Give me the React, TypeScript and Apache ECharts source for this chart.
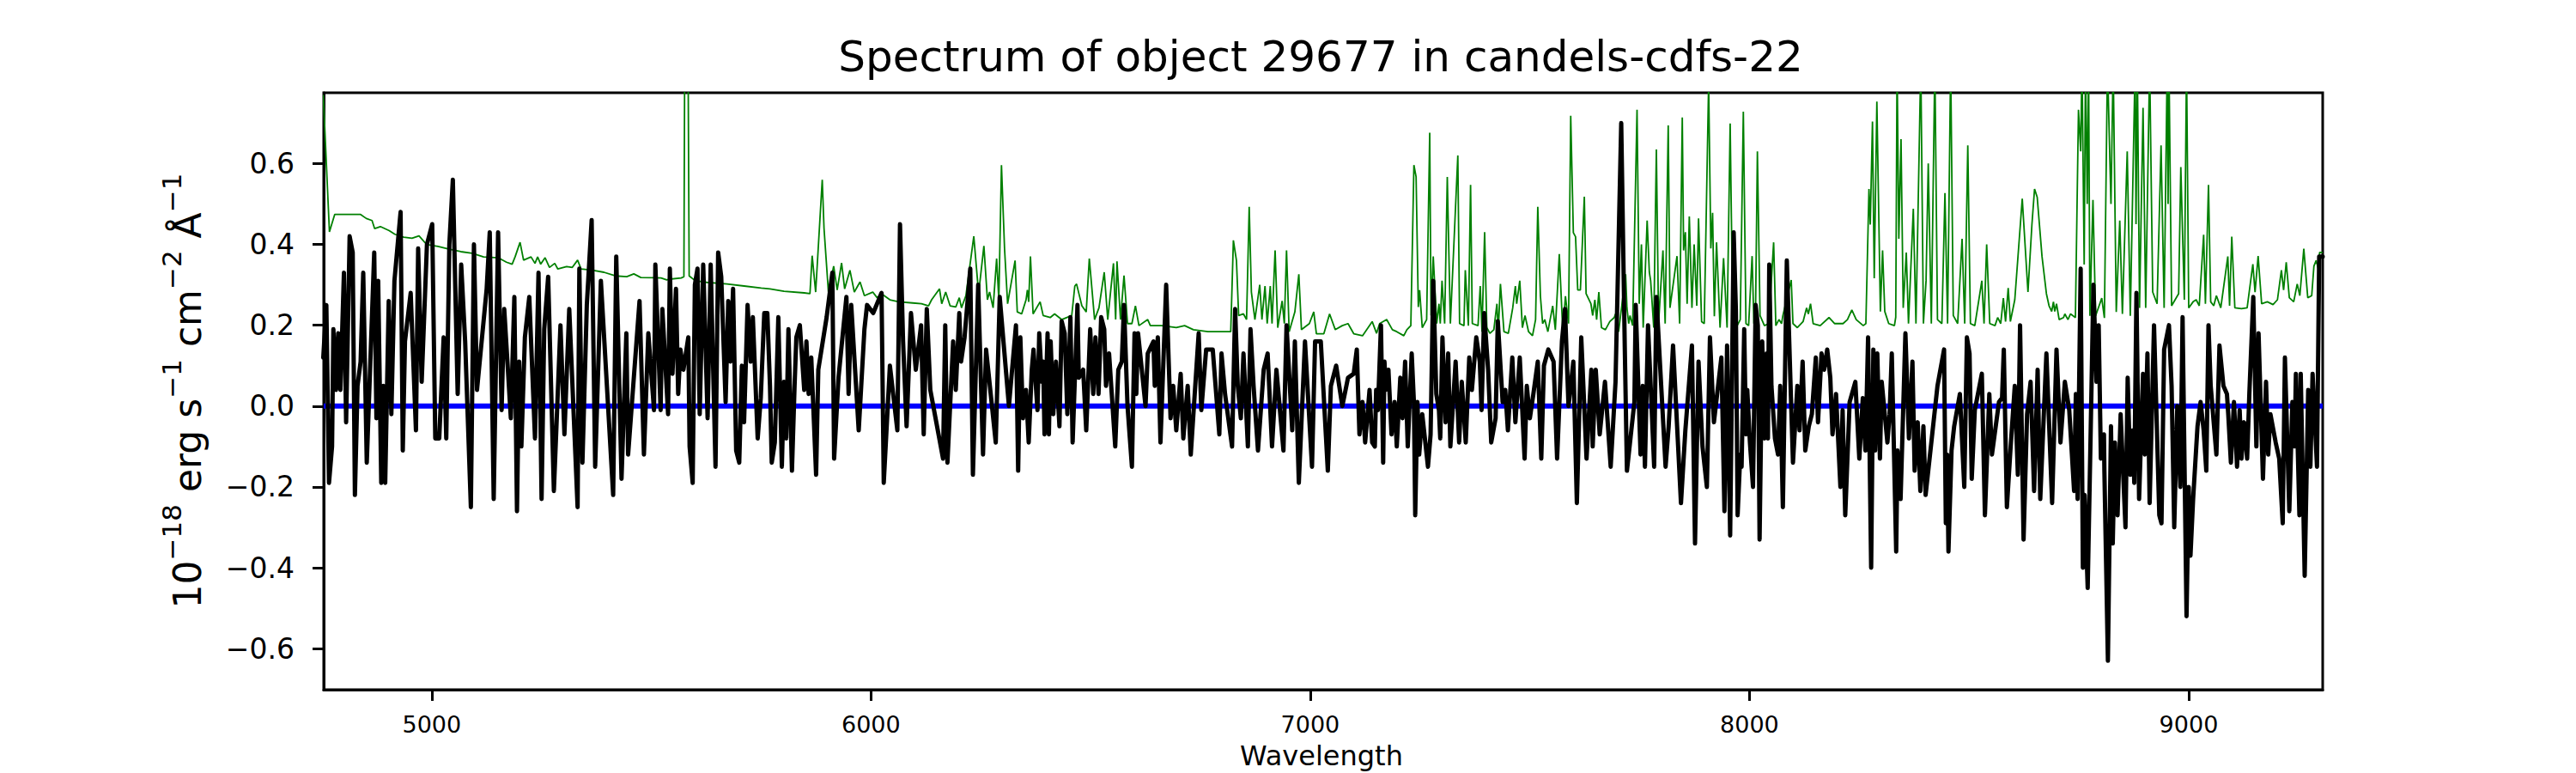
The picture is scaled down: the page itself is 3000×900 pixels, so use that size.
import React, { useEffect, useRef } from 'react';
import * as echarts from 'echarts';

const TITLE = 'Spectrum of object 29677 in candels-cdfs-22';
const X_NAME = 'Wavelength';
const Y_NAME = '{m|10}{s|\u221218}{m| erg s}{s|\u22121}{m| cm}{s|\u22122}{m| \u00c5}{s|\u22121}';
const X_TICKS = [5000, 6000, 7000, 8000, 9000];
const Y_TICKS = [-0.6, -0.4, -0.2, 0, 0.2, 0.4, 0.6];
const X_MIN = 4754;
const X_MAX = 9305;
const Y_MIN = -0.7015;
const Y_MAX = 0.775;

// observed flux (black)
const fluxWave = [
  4753, 4760, 4766, 4773, 4776, 4782, 4787, 4792, 4800, 4805, 4813, 4820, 4825, 4831, 4838, 4844, 4852, 4869, 4874, 4878,
  4885, 4890, 4894, 4902, 4908, 4915, 4929, 4934, 4939, 4952, 4964, 4969, 4977, 4989, 5001, 5008, 5017, 5027, 5033, 5040,
  5048, 5059, 5067, 5076, 5089, 5096, 5103, 5125, 5132, 5141, 5151, 5159, 5165, 5180, 5188, 5194, 5199, 5204, 5212, 5222,
  5235, 5243, 5250, 5256, 5265, 5278, 5293, 5302, 5313, 5332, 5336, 5343, 5353, 5364, 5372, 5385, 5413, 5420, 5432, 5443,
  5447, 5473, 5483, 5493, 5506, 5509, 5521, 5525, 5538,
  5542, 5548, 5556, 5561, 5566, 5573, 5584, 5587, 5594, 5599, 5605, 5610, 5618, 5628, 5635, 5646, 5652, 5659, 5669, 5675,
  5680, 5686, 5693, 5700, 5706, 5711, 5719, 5726, 5731, 5742, 5749, 5757, 5764, 5770, 5774, 5781, 5789, 5797, 5802, 5807,
  5812, 5820, 5826, 5830, 5838, 5848, 5853, 5858, 5864, 5875, 5880, 5899, 5912, 5916, 5926, 5944, 5949, 5955, 5972, 5985,
  5991, 6005, 6024, 6029, 6043, 6060, 6066, 6073, 6081, 6091, 6102, 6114, 6120, 6127, 6135, 6164, 6169, 6174, 6187, 6193,
  6201, 6205, 6213, 6226, 6232, 6244, 6255, 6262, 6284, 6293, 6314, 6330, 6335, 6340,
  6346, 6353, 6359, 6366, 6370, 6379, 6383, 6389, 6392, 6395, 6402, 6405, 6409, 6415, 6421, 6429, 6434, 6441, 6447, 6454,
  6459, 6470, 6473, 6483, 6490, 6499, 6506, 6511, 6518, 6524, 6531, 6535, 6542, 6556, 6563, 6571, 6576, 6584, 6594, 6600,
  6604, 6608, 6625, 6630, 6643, 6646, 6653, 6659, 6672, 6682, 6688, 6695, 6705, 6711, 6721, 6728, 6746, 6752, 6763, 6778,
  6793, 6798, 6806, 6822, 6829, 6835, 6842, 6848, 6858, 6864, 6871, 6881, 6894, 6903, 6913, 6923, 6939, 6946, 6959, 6965,
  6974, 6988, 7004, 7011, 7024, 7040, 7047, 7059, 7073, 7086, 7099, 7106, 7112, 7119, 7125, 7135, 7141,
  7147, 7150, 7154, 7161, 7166, 7169, 7172, 7178, 7185, 7192, 7197, 7205, 7210, 7216, 7222, 7231, 7236, 7239, 7244, 7248,
  7255, 7268, 7274, 7280, 7287, 7293, 7296, 7301, 7308, 7314, 7319, 7331, 7339, 7345, 7354, 7362, 7368, 7378, 7386, 7390,
  7396, 7405, 7412, 7422, 7427, 7438, 7444, 7450, 7460, 7467, 7477, 7488, 7493, 7500, 7508, 7518, 7526, 7532, 7542, 7554,
  7562, 7573, 7580, 7588, 7599, 7607, 7617, 7629, 7640, 7643, 7650, 7659, 7671, 7684, 7695, 7708, 7716, 7721, 7731, 7738,
  7741, 7752, 7757, 7762, 7769, 7783, 7788, 7809, 7816, 7826, 7844, 7854, 7869, 7876, 7884, 7893, 7903, 7910, 7919, 7936,
  7943, 7949, 7956, 7964,
  7969, 7973, 7979, 7982, 7988, 7992, 7995, 8001, 8008, 8014, 8019, 8023, 8029, 8034, 8039, 8042, 8045, 8050, 8058, 8065,
  8070, 8076, 8085, 8093, 8099, 8109, 8114, 8121, 8127, 8135, 8142, 8151, 8156, 8164, 8170, 8177, 8184, 8189, 8197, 8207,
  8212, 8218, 8228, 8241, 8250, 8258, 8264, 8270, 8277, 8282, 8286, 8291, 8297, 8301, 8314, 8319, 8324, 8334, 8337, 8344,
  8355, 8363, 8371, 8376, 8383, 8389, 8396, 8401, 8428, 8443, 8447, 8450, 8453, 8460, 8466, 8479, 8489, 8495, 8501, 8506,
  8513, 8529, 8536, 8546, 8552, 8568, 8575, 8579, 8586, 8594, 8604, 8611, 8616, 8624, 8632, 8640, 8648, 8656, 8662, 8676,
  8689, 8699, 8708, 8718, 8728,
  8739, 8743, 8747, 8754, 8759, 8763, 8770, 8777, 8783, 8790, 8795, 8800, 8807, 8808, 8816, 8823, 8827, 8832, 8838, 8845,
  8856, 8861, 8867, 8873, 8876, 8881, 8887, 8896, 8900, 8906, 8911, 8921, 8933, 8938, 8944, 8955, 8961, 8967, 8974, 8981,
  8986, 8995, 9000, 9004, 9010, 9020, 9027, 9034, 9040, 9045, 9050, 9063, 9070, 9079, 9087, 9090, 9096, 9103, 9110, 9116,
  9120, 9126, 9133, 9138, 9147, 9154, 9159, 9169, 9176, 9181, 9186, 9198, 9206, 9214, 9219, 9229, 9236, 9241, 9244, 9252,
  9255, 9264, 9272, 9277, 9282, 9292, 9297, 9305,
];
const fluxValue = [
  0.12, 0.25, -0.19, -0.10, 0.19, 0.04, 0.18, 0.04, 0.33, -0.04, 0.42, 0.38, -0.22, 0.05, 0.11, 0.33, -0.14, 0.38, -0.03, 0.31,
  -0.19, 0.05, -0.19, 0.26, -0.02, 0.31, 0.48, -0.11, 0.16, 0.28, -0.06, 0.39, 0.06, 0.40, 0.45, -0.08, -0.08, 0.17, -0.08, 0.40,
  0.56, 0.03, 0.35, 0.16, -0.25, 0.40, 0.04, 0.29, 0.43, -0.23, 0.43, -0.01, 0.24, -0.03, 0.27, -0.26, 0.11, -0.10, 0.17, 0.27,
  -0.08, 0.33, -0.23, 0.19, 0.32, -0.21, 0.20, -0.07, 0.24, -0.25, 0.34, -0.14, 0.25, 0.46, -0.15, 0.31, -0.22, 0.37, -0.18, 0.18,
  -0.12, 0.26, -0.12, 0.18, -0.01, 0.35, -0.01, 0.24, -0.02,
  0.34, 0.08, 0.29, 0.03, 0.14, 0.09, 0.17, -0.10, -0.19, 0.30, 0.34, -0.02, 0.35, -0.03, 0.35, -0.15, 0.38, 0.32, 0.01, 0.26,
  0.11, 0.29, -0.11, -0.14, 0.10, -0.04, 0.25, 0.11, 0.22, -0.08, 0.02, 0.23, 0.23, 0.05, -0.14, -0.09, 0.22, -0.15, 0.06, -0.08,
  0.19, -0.16, 0.05, 0.17, 0.20, 0.04, 0.16, 0.03, 0.12, -0.17, 0.09, 0.22, 0.33, -0.13, 0.07, 0.27, 0.03, 0.25, -0.06, 0.19,
  0.25, 0.23, 0.28, -0.19, 0.10, -0.06, 0.45, 0.16, -0.05, 0.23, 0.09, 0.20, -0.07, 0.24, 0.04, -0.13, 0.20, -0.14, 0.16, 0.04,
  0.23, 0.11, 0.17, 0.34, -0.17, 0.30, -0.12, 0.14, -0.09, 0.27, 0.00, 0.20, -0.16, 0.17,
  -0.03, 0.04, -0.09, 0.09, 0.14, -0.01, 0.18, 0.06, 0.11, -0.07, 0.18, -0.07, 0.16, -0.02, 0.11, -0.05, 0.21, 0.18, -0.02, 0.22,
  -0.09, 0.25, 0.07, 0.09, -0.06, 0.19, 0.03, 0.17, 0.03, 0.22, 0.19, 0.05, 0.13, -0.10, 0.09, 0.11, 0.25, 0.00, -0.15, 0.18,
  0.03, 0.18, 0.00, 0.13, 0.16, 0.05, 0.17, -0.09, 0.30, -0.03, 0.05, -0.06, 0.08, -0.08, 0.05, -0.12, 0.18, -0.01, 0.14, 0.14,
  -0.07, 0.13, 0.03, -0.10, 0.24, 0.05, -0.03, 0.13, -0.10, 0.19, 0.05, -0.11, 0.09, 0.13, -0.10, 0.09, -0.11, 0.20, -0.06, 0.16,
  -0.19, 0.16, -0.15, 0.16, 0.16, -0.16, 0.05, 0.10, 0.00, 0.07, 0.08, 0.14, -0.07, 0.01, -0.09, 0.04, -0.09,
  -0.10, 0.04, -0.01, 0.20, -0.14, 0.11, 0.04, 0.09, -0.07, 0.01, -0.10, 0.07, -0.03, 0.11, -0.10, 0.13, 0.01, -0.27, 0.01, -0.12,
  -0.02, -0.15, -0.07, 0.31, 0.03, -0.01, -0.08, 0.17, -0.04, 0.13, -0.10, 0.11, -0.09, 0.06, -0.09, 0.12, 0.04, 0.17, 0.11, -0.01,
  0.23, 0.09, -0.09, -0.03, 0.21, 0.01, 0.04, -0.06, 0.12, -0.04, 0.12, -0.13, 0.05, -0.03, 0.03, 0.11, -0.13, 0.10, 0.14, 0.11,
  -0.13, 0.16, 0.24, 0.00, 0.11, -0.24, 0.17, -0.13, 0.09, -0.10, 0.09, -0.07, 0.06, -0.15, 0.06, 0.70, 0.15, -0.16, -0.06, 0.01,
  0.25, -0.12, 0.05, -0.15, 0.20, -0.15, 0.27, -0.15, -0.05, 0.15, -0.24, -0.06, 0.15, -0.34, 0.11, -0.10, -0.20, 0.17, -0.04, 0.12,
  -0.26, 0.15, -0.32, 0.43,
  0.24, -0.27, -0.12, -0.15, 0.19, -0.07, 0.04, -0.09, -0.20, 0.25, 0.20, -0.33, 0.16, -0.08, 0.13, -0.08, 0.35, 0.05, -0.08, -0.12,
  0.05, -0.25, 0.36, 0.07, -0.14, 0.05, -0.06, 0.11, -0.11, -0.05, -0.02, 0.12, -0.04, 0.13, 0.09, 0.14, 0.07, -0.07, 0.03, -0.20,
  -0.01, -0.27, 0.01, 0.06, -0.13, 0.02, -0.11, 0.17, -0.40, 0.14, -0.11, 0.13, -0.13, 0.06, -0.09, -0.02, 0.13, -0.36, -0.11, -0.23,
  0.18, -0.08, 0.11, -0.16, -0.04, -0.21, -0.05, -0.22, 0.05, 0.14, -0.29, -0.12, -0.36, -0.11, -0.05, 0.03, -0.20, 0.17, 0.13, -0.18,
  -0.01, 0.08, -0.27, 0.03, -0.12, 0.01, 0.02, 0.14, -0.25, -0.11, 0.05, -0.17, 0.20, -0.33, -0.02, 0.06, -0.21, 0.09, -0.23, 0.13,
  -0.24, 0.14, -0.09, 0.06, -0.01,
  -0.21, 0.03, -0.23, 0.34, -0.40, -0.22, -0.45, -0.05, 0.30, 0.06, 0.20, -0.13, -0.07, -0.16, -0.63, -0.05, -0.34, -0.09, -0.27, -0.02,
  -0.30, 0.07, -0.17, -0.06, -0.19, 0.28, -0.23, 0.08, -0.12, 0.13, -0.24, 0.20, -0.27, -0.29, 0.14, 0.20, 0.05, -0.30, 0.00, -0.20,
  0.22, -0.52, -0.20, -0.37, -0.23, -0.05, 0.01, -0.06, -0.16, 0.20, 0.05, -0.12, 0.15, 0.05, 0.03, -0.02, -0.14, 0.01, -0.15, -0.01,
  -0.13, -0.04, -0.13, 0.03, 0.27, -0.10, 0.18, -0.18, 0.06, -0.12, -0.02, -0.09, -0.13, -0.29, 0.12, -0.26, 0.01, -0.10, 0.08, -0.27,
  0.08, -0.42, 0.04, -0.15, 0.08, -0.15, 0.37, 0.37,
];

// noise / error spectrum (green)
const errWave = [
  4753, 4767, 4779, 4838, 4851, 4864, 4870, 4883, 4903, 4916, 4936, 4955, 4971, 4988, 5014, 5040, 5066, 5092, 5118, 5151,
  5170, 5183, 5190, 5201, 5209, 5226, 5235, 5241, 5248, 5258, 5268, 5280, 5287, 5307, 5320, 5332, 5340, 5366, 5392, 5418,
  5444, 5460, 5476, 5522, 5535,
  5542, 5568, 5574, 5577, 5582, 5586, 5600, 5626, 5672, 5711, 5750, 5770, 5802, 5848, 5861, 5866, 5874, 5889, 5893, 5903,
  5915, 5923, 5933, 5940, 5952, 5962, 5975, 5985, 6004, 6014, 6024, 6043, 6063, 6095, 6115, 6131, 6138, 6156, 6161, 6170,
  6180, 6193, 6201, 6206, 6216, 6234, 6245, 6257, 6265, 6270, 6278, 6286, 6291, 6297, 6304, 6311, 6328, 6333, 6343,
  6353, 6356, 6359, 6363, 6369, 6385, 6392, 6408, 6418, 6434, 6457, 6464, 6468, 6480, 6490, 6497, 6509, 6519, 6531, 6539,
  6552, 6557, 6560, 6568, 6576, 6584, 6594, 6602, 6610, 6630, 6636, 6662, 6695, 6714, 6734, 6767, 6809, 6819, 6825, 6832,
  6837, 6848, 6855, 6861, 6866, 6874, 6885, 6890, 6897, 6902, 6909, 6913, 6920, 6926, 6936, 6941, 6946, 6952, 6965, 6974,
  6980, 6998, 7008, 7014, 7031, 7044, 7057, 7073, 7086, 7099, 7119, 7141,
  7151, 7158, 7174, 7187, 7197, 7213, 7220, 7229, 7236, 7241, 7246, 7249, 7255, 7265, 7272, 7275, 7280, 7288, 7293, 7296,
  7300, 7306, 7312, 7319, 7336, 7340, 7350, 7353, 7360, 7365, 7369, 7382, 7387, 7391, 7397, 7402, 7409, 7418, 7425, 7428,
  7433, 7441, 7451, 7461, 7467, 7470, 7477, 7483, 7489, 7497, 7506, 7513, 7518, 7524, 7529, 7534, 7541, 7552, 7558, 7567,
  7575, 7581, 7588, 7593, 7599, 7604, 7609, 7615, 7624, 7628, 7639, 7643, 7648, 7652, 7657, 7663, 7672, 7682, 7692, 7695,
  7702, 7718, 7721, 7725, 7728, 7734, 7744, 7749, 7754, 7758, 7767, 7772, 7775, 7782, 7788, 7793, 7803, 7808, 7815, 7819,
  7835, 7841, 7847, 7850, 7854, 7858, 7863, 7869, 7874, 7880, 7884, 7891, 7897, 7907, 7912, 7916, 7920, 7925, 7933, 7941,
  7949,
  7956, 7962, 7972, 7979, 7986, 7992, 7998, 8006, 8010, 8014, 8018, 8024, 8034, 8044, 8055, 8060, 8067, 8073, 8076, 8095,
  8099, 8109, 8122, 8130, 8134, 8139, 8145, 8161, 8181, 8194, 8213, 8223, 8233, 8243, 8259, 8265, 8272, 8275, 8280, 8284,
  8290, 8298, 8303, 8308, 8317, 8330, 8333, 8336, 8340, 8345, 8350, 8357, 8362, 8373, 8379, 8390, 8396, 8402, 8407, 8414,
  8422, 8428, 8438, 8445, 8451, 8458, 8464, 8474, 8484, 8490, 8497, 8503, 8513, 8529, 8534, 8540, 8547, 8559, 8565, 8572,
  8578, 8583, 8589, 8594, 8604, 8621, 8634, 8643, 8649, 8655, 8666, 8676, 8682, 8688, 8692, 8695, 8699, 8705, 8715, 8718,
  8725, 8731, 8742,
  8749, 8754, 8757, 8762, 8765, 8769, 8772, 8775, 8782, 8788, 8802, 8808, 8815, 8823, 8828, 8835, 8843, 8849, 8860, 8867,
  8878, 8880, 8883, 8888, 8896, 8902, 8911, 8918, 8928, 8937, 8944, 8951, 8953, 8955, 8961, 8969, 8977, 8982, 8990, 8995,
  9000, 9010, 9017, 9024, 9034, 9038, 9045, 9050, 9057, 9063, 9073, 9089, 9093, 9098, 9105, 9120, 9133, 9146, 9151, 9158,
  9166, 9179, 9192, 9202, 9211, 9216, 9222, 9229, 9239, 9247, 9253, 9262, 9271, 9280, 9285, 9290, 9295, 9298, 9305,
];
const errValue = [
  0.770, 0.431, 0.474, 0.474, 0.464, 0.459, 0.439, 0.444, 0.434, 0.425, 0.418, 0.415, 0.421, 0.400, 0.395, 0.388, 0.382, 0.378, 0.369, 0.367,
  0.356, 0.351, 0.370, 0.405, 0.361, 0.369, 0.353, 0.369, 0.351, 0.367, 0.343, 0.353, 0.339, 0.345, 0.343, 0.361, 0.339, 0.336, 0.331, 0.322,
  0.320, 0.327, 0.318, 0.317, 0.312,
  0.314, 0.317, 0.320, 1.2, 1.2, 0.322, 0.310, 0.306, 0.302, 0.297, 0.292, 0.290, 0.284, 0.280, 0.278, 0.372, 0.282, 0.560, 0.440, 0.282,
  0.346, 0.287, 0.354, 0.290, 0.336, 0.282, 0.307, 0.273, 0.282, 0.268, 0.278, 0.263, 0.258, 0.255, 0.253, 0.248, 0.263, 0.290, 0.253, 0.282,
  0.248, 0.245, 0.268, 0.243, 0.273, 0.420, 0.278, 0.396, 0.263, 0.282, 0.243, 0.365, 0.263, 0.596, 0.390, 0.253, 0.360, 0.233, 0.228,
  0.263, 0.287, 0.258, 0.370, 0.228, 0.258, 0.224, 0.219, 0.228, 0.214, 0.224, 0.297, 0.302, 0.248, 0.233, 0.365, 0.214, 0.243, 0.331, 0.214,
  0.353, 0.214, 0.358, 0.214, 0.323, 0.204, 0.204, 0.248, 0.199, 0.214, 0.199, 0.199, 0.194, 0.199, 0.189, 0.184, 0.184, 0.184, 0.410, 0.360,
  0.224, 0.228, 0.214, 0.493, 0.282, 0.214, 0.300, 0.214, 0.297, 0.204, 0.297, 0.204, 0.385, 0.194, 0.260, 0.204, 0.385, 0.184, 0.233, 0.326,
  0.189, 0.204, 0.233, 0.179, 0.179, 0.228, 0.189, 0.199, 0.204, 0.179, 0.174, 0.209,
  0.180, 0.204, 0.214, 0.189, 0.184, 0.174, 0.189, 0.199, 0.596, 0.567, 0.245, 0.287, 0.194, 0.214, 0.676, 0.224, 0.370, 0.204, 0.253, 0.204,
  0.310, 0.204, 0.567, 0.204, 0.620, 0.204, 0.199, 0.336, 0.199, 0.547, 0.204, 0.199, 0.297, 0.184, 0.430, 0.194, 0.180, 0.189, 0.253, 0.184,
  0.302, 0.184, 0.180, 0.243, 0.297, 0.253, 0.310, 0.194, 0.224, 0.184, 0.174, 0.214, 0.493, 0.272, 0.204, 0.214, 0.184, 0.248, 0.189, 0.376,
  0.184, 0.272, 0.204, 0.718, 0.429, 0.419, 0.287, 0.287, 0.518, 0.278, 0.253, 0.224, 0.263, 0.214, 0.282, 0.194, 0.189, 0.209, 0.219, 0.228,
  0.184, 0.326, 0.243, 0.204, 0.224, 0.199, 0.733, 0.253, 0.400, 0.194, 0.459, 0.331, 0.310, 0.194, 0.635, 0.204, 0.385, 0.204, 0.694, 0.243,
  0.371, 0.204, 0.714, 0.385, 0.430, 0.253, 0.469, 0.243, 0.400, 0.248, 0.464, 0.209, 0.204, 0.800, 0.390, 0.478, 0.222, 0.405, 0.194, 0.366,
  0.194,
  0.699, 0.204, 0.199, 0.214, 0.728, 0.204, 0.199, 0.371, 0.204, 0.253, 0.630, 0.224, 0.199, 0.204, 0.405, 0.199, 0.214, 0.204, 0.224, 0.312,
  0.204, 0.194, 0.209, 0.243, 0.228, 0.253, 0.204, 0.199, 0.219, 0.204, 0.204, 0.214, 0.238, 0.214, 0.199, 0.204, 0.537, 0.449, 0.704, 0.316,
  0.753, 0.234, 0.385, 0.234, 0.204, 0.199, 0.220, 0.850, 0.414, 0.660, 0.243, 0.380, 0.204, 0.488, 0.204, 0.850, 0.204, 0.310, 0.600, 0.204,
  0.850, 0.214, 0.204, 0.527, 0.204, 0.850, 0.224, 0.204, 0.414, 0.204, 0.645, 0.204, 0.199, 0.310, 0.204, 0.400, 0.204, 0.199, 0.219, 0.204,
  0.267, 0.209, 0.292, 0.209, 0.263, 0.513, 0.282, 0.449, 0.537, 0.517, 0.370, 0.278, 0.248, 0.234, 0.258, 0.234, 0.253, 0.214, 0.219, 0.228,
  0.214, 0.228, 0.219,
  0.733, 0.630, 0.850, 0.350, 0.850, 0.500, 0.850, 0.223, 0.510, 0.223, 0.267, 0.218, 0.850, 0.500, 0.850, 0.233, 0.459, 0.228, 0.630, 0.223,
  0.850, 0.450, 0.850, 0.243, 0.738, 0.243, 0.850, 0.282, 0.253, 0.645, 0.243, 0.850, 0.500, 0.850, 0.248, 0.263, 0.278, 0.591, 0.263, 0.850,
  0.243, 0.258, 0.263, 0.248, 0.424, 0.253, 0.547, 0.258, 0.248, 0.273, 0.243, 0.370, 0.248, 0.419, 0.243, 0.241, 0.243, 0.351, 0.282, 0.371,
  0.253, 0.258, 0.251, 0.263, 0.336, 0.287, 0.356, 0.268, 0.258, 0.302, 0.273, 0.389, 0.268, 0.273, 0.346, 0.360, 0.340, 0.380, 0.380,
];

// zero level (blue)
const zeroWave = [X_MIN, X_MAX];
const zeroValue = [0, 0];

const FONT = 'DejaVu Sans';

const zip = (xs: number[], ys: number[]) => xs.map((x, i) => [x, ys[i]]);
const fmtY = (v: number) => {
  const s = Math.abs(v).toFixed(1);
  return v < -1e-9 ? '\u2212' + s : s;
};

export default function App() {
  const ref = useRef<HTMLDivElement>(null);
  useEffect(() => {
    document.body.style.margin = '0';
    const chart = echarts.init(ref.current as HTMLDivElement, undefined, { renderer: 'svg' });
    chart.setOption({
      animation: false,
      backgroundColor: '#ffffff',
      grid: {
        left: 377,
        right: 295,
        top: 108,
        bottom: 97,
        show: true,
        borderColor: '#000',
        borderWidth: 3,
        backgroundColor: 'transparent',
      },
      xAxis: {
        type: 'value',
        min: X_MIN,
        max: X_MAX,
        axisLine: { show: true, onZero: false, lineStyle: { color: '#000', width: 3 } },
        axisTick: { show: true, length: 13, lineStyle: { color: '#000', width: 3 }, customValues: X_TICKS },
        axisLabel: {
          customValues: X_TICKS,
          margin: 27,
          fontSize: 27,
          fontFamily: FONT,
          color: '#000',
          formatter: (v: number) => String(Math.round(v)),
        },
        splitLine: { show: false },
      },
      yAxis: {
        type: 'value',
        min: Y_MIN,
        max: Y_MAX,
        axisLine: { show: true, onZero: false, lineStyle: { color: '#000', width: 3 } },
        axisTick: { show: true, length: 13, lineStyle: { color: '#000', width: 3 }, customValues: Y_TICKS },
        axisLabel: {
          customValues: Y_TICKS,
          margin: 34,
          fontSize: 33,
          fontFamily: FONT,
          color: '#000',
          formatter: fmtY,
        },
        splitLine: { show: false },
      },
      graphic: [
        {
          type: 'text',
          x: 1538,
          y: 66,
          style: { text: TITLE, fontSize: 50, fontFamily: FONT, fill: '#000', align: 'center', verticalAlign: 'middle' },
        },
        {
          type: 'text',
          x: 1539,
          y: 880,
          style: { text: X_NAME, fontSize: 32, fontFamily: FONT, fill: '#000', align: 'center', verticalAlign: 'middle' },
        },
        {
          type: 'text',
          x: 212,
          y: 455,
          rotation: Math.PI / 2,
          style: {
            text: Y_NAME,
            fill: '#000',
            align: 'center',
            verticalAlign: 'middle',
            rich: {
              m: { fontSize: 44, fontFamily: FONT, fill: '#000', lineHeight: 56, verticalAlign: 'bottom' },
              s: { fontSize: 31, fontFamily: FONT, fill: '#000', lineHeight: 28, verticalAlign: 'top' },
            },
          },
        },
      ],
      series: [
        {
          type: 'line',
          data: zip(errWave, errValue),
          showSymbol: false,
          symbol: 'none',
          lineStyle: { color: '#008000', width: 1.8 },
          clip: true,
        },
        {
          type: 'line',
          data: zip(zeroWave, zeroValue),
          showSymbol: false,
          symbol: 'none',
          lineStyle: { color: '#0000ff', width: 6 },
          clip: true,
        },
        {
          type: 'line',
          data: zip(fluxWave, fluxValue),
          showSymbol: false,
          symbol: 'none',
          lineStyle: { color: '#000000', width: 5, join: 'round', cap: 'round' },
          clip: true,
        },
      ],
    });
    return () => chart.dispose();
  }, []);
  return <div ref={ref} style={{ width: 3000, height: 900 }} />;
}
